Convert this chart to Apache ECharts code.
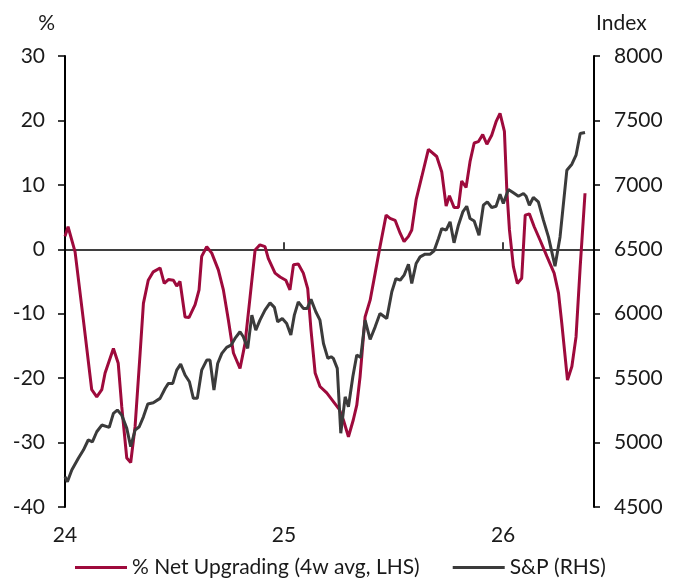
<!DOCTYPE html>
<html>
<head>
<meta charset="utf-8">
<script src="https://cdn.jsdelivr.net/npm/echarts@6/dist/echarts.min.js"></script>
<style>
html,body{margin:0;padding:0;background:#fff;}
#chart{width:679px;height:578px;}
</style>
</head>
<body>
<div id="chart"></div>
<script>
// Time positions in decimal years (2024.0 = start of 2024)
var redYears = [2024.000, 2024.014, 2024.046, 2024.084, 2024.122, 2024.145, 2024.168, 2024.183, 2024.221, 2024.243, 2024.259, 2024.282, 2024.300, 2024.320, 2024.343, 2024.358, 2024.380, 2024.403, 2024.434, 2024.453, 2024.472, 2024.495, 2024.510, 2024.525, 2024.548, 2024.566, 2024.594, 2024.612, 2024.624, 2024.647, 2024.670, 2024.700, 2024.723, 2024.746, 2024.769, 2024.799, 2024.822, 2024.845, 2024.868, 2024.890, 2024.913, 2024.928, 2024.959, 2024.982, 2025.008, 2025.027, 2025.043, 2025.065, 2025.088, 2025.108, 2025.123, 2025.142, 2025.164, 2025.195, 2025.233, 2025.253, 2025.271, 2025.294, 2025.316, 2025.332, 2025.347, 2025.370, 2025.393, 2025.416, 2025.438, 2025.466, 2025.484, 2025.507, 2025.530, 2025.548, 2025.568, 2025.583, 2025.603, 2025.629, 2025.659, 2025.697, 2025.720, 2025.740, 2025.755, 2025.776, 2025.796, 2025.811, 2025.831, 2025.849, 2025.868, 2025.887, 2025.907, 2025.926, 2025.948, 2025.968, 2025.986, 2026.006, 2026.017, 2026.029, 2026.047, 2026.065, 2026.085, 2026.101, 2026.120, 2026.142, 2026.169, 2026.200, 2026.233, 2026.253, 2026.268, 2026.294, 2026.314, 2026.333, 2026.352, 2026.374];
var netUpgrading = [2.0, 3.5, -0.4, -11.0, -21.8, -22.9, -21.8, -19.2, -15.4, -17.7, -24.4, -32.4, -33.1, -27.5, -16.1, -8.4, -4.8, -3.5, -2.9, -5.3, -4.7, -4.8, -5.7, -5.0, -10.5, -10.6, -8.6, -6.3, -1.1, 0.4, -0.6, -3.2, -6.3, -11.0, -16.1, -18.5, -14.6, -7.4, -0.1, 0.7, 0.4, -1.4, -3.7, -4.3, -4.8, -6.3, -2.4, -2.3, -3.7, -6.1, -12.5, -19.2, -21.3, -22.3, -24.0, -24.9, -26.5, -29.1, -26.5, -24.2, -19.8, -10.5, -7.9, -3.7, 0.4, 5.3, 4.8, 4.5, 2.5, 1.2, 2.0, 3.0, 7.7, 11.3, 15.5, 14.4, 12.0, 6.7, 8.3, 6.5, 6.5, 10.6, 9.6, 13.6, 16.5, 16.7, 17.8, 16.3, 17.7, 19.8, 21.1, 18.3, 9.2, 3.0, -2.7, -5.3, -4.5, 5.3, 5.5, 3.5, 1.4, -1.1, -3.7, -6.8, -11.5, -20.3, -18.2, -13.6, -2.7, 8.7];

var spxYears = [2024.000, 2024.011, 2024.031, 2024.061, 2024.084, 2024.106, 2024.125, 2024.145, 2024.168, 2024.202, 2024.221, 2024.239, 2024.259, 2024.282, 2024.300, 2024.320, 2024.339, 2024.358, 2024.378, 2024.403, 2024.434, 2024.457, 2024.472, 2024.492, 2024.510, 2024.528, 2024.548, 2024.568, 2024.586, 2024.604, 2024.624, 2024.647, 2024.662, 2024.680, 2024.697, 2024.716, 2024.738, 2024.758, 2024.776, 2024.799, 2024.814, 2024.834, 2024.853, 2024.871, 2024.890, 2024.913, 2024.936, 2024.956, 2024.971, 2024.992, 2025.012, 2025.031, 2025.047, 2025.065, 2025.088, 2025.106, 2025.123, 2025.145, 2025.164, 2025.180, 2025.200, 2025.215, 2025.225, 2025.243, 2025.259, 2025.279, 2025.294, 2025.314, 2025.332, 2025.350, 2025.370, 2025.393, 2025.416, 2025.438, 2025.469, 2025.492, 2025.511, 2025.530, 2025.548, 2025.568, 2025.583, 2025.603, 2025.621, 2025.644, 2025.667, 2025.685, 2025.705, 2025.720, 2025.740, 2025.758, 2025.776, 2025.796, 2025.816, 2025.834, 2025.849, 2025.868, 2025.890, 2025.910, 2025.928, 2025.948, 2025.968, 2025.986, 2026.001, 2026.024, 2026.047, 2026.070, 2026.093, 2026.105, 2026.120, 2026.138, 2026.161, 2026.184, 2026.207, 2026.237, 2026.260, 2026.291, 2026.314, 2026.333, 2026.352, 2026.374];
var spx = [4735, 4696, 4787, 4878, 4942, 5020, 5006, 5084, 5136, 5118, 5227, 5252, 5213, 5110, 4968, 5097, 5123, 5200, 5299, 5309, 5343, 5420, 5459, 5459, 5562, 5609, 5524, 5472, 5343, 5343, 5562, 5640, 5640, 5407, 5614, 5692, 5739, 5756, 5808, 5860, 5821, 5731, 5989, 5873, 5950, 6028, 6084, 6049, 5937, 5963, 5925, 5834, 5989, 6092, 6041, 6041, 6111, 6015, 5950, 5769, 5653, 5666, 5653, 5576, 5072, 5355, 5278, 5511, 5679, 5661, 5950, 5800, 5898, 6002, 5963, 6170, 6273, 6260, 6299, 6384, 6235, 6390, 6441, 6462, 6462, 6488, 6584, 6661, 6648, 6713, 6550, 6687, 6790, 6834, 6739, 6720, 6609, 6842, 6868, 6824, 6834, 6927, 6855, 6964, 6938, 6912, 6933, 6912, 6842, 6902, 6868, 6726, 6596, 6369, 6596, 7113, 7160, 7230, 7398, 7406];

var xYearTicks = [2024, 2025, 2026];
var seriesNames = ['% Net Upgrading (4w avg, LHS)', 'S&P (RHS)'];

var RED = '#9E0A3C';
var DARK = '#3B3B3B';
var TXT = '#1a1a1a';
var FONT = 'Lato';
var FS = 21;

function pair(xs, ys){ return xs.map(function(x,i){ return [x, ys[i]]; }); }

var xMin = 2024, xMax = 2026.415;

var chart = echarts.init(document.getElementById('chart'), null, {renderer:'canvas'});
chart.setOption({
  animation: false,
  backgroundColor: '#fff',
  textStyle: {fontFamily: FONT, color: TXT},
  grid: {left: 65, right: 85, top: 56, bottom: 71, containLabel: false},
  legend: {
    data: [{name: seriesNames[0], icon: 'rect'}, {name: seriesNames[1], icon: 'rect'}],
    left: 70, top: 552, padding: 5,
    itemWidth: 52, itemHeight: 3, itemGap: 33,
    textStyle: {fontFamily: FONT, fontSize: FS, color: TXT}
  },
  xAxis: [
    {
      type: 'value', min: xMin, max: xMax, interval: 1,
      position: 'bottom',
      axisLine: {show: false, onZero: false},
      axisTick: {show: false},
      splitLine: {show: false},
      axisLabel: {
        fontFamily: FONT, fontSize: FS, color: TXT, margin: 18,
        showMaxLabel: false,
        formatter: function(v){ return xYearTicks.indexOf(Math.round(v*1000)/1000) >= 0 ? String(v).slice(2) : ''; }
      }
    },
    {
      type: 'value', min: xMin, max: xMax, interval: 1,
      axisLine: {show: true, onZero: true, onZeroAxisIndex: 0, lineStyle: {color: '#000', width: 1.5}},
      axisTick: {show: true, length: 7, inside: false, lineStyle: {color: '#000', width: 1.5}},
      axisLabel: {show: false},
      splitLine: {show: false}
    }
  ],
  yAxis: [
    {
      type: 'value', min: -40, max: 30, interval: 10, position: 'left',
      name: '%', nameLocation: 'end', nameGap: 22,
      nameTextStyle: {fontFamily: FONT, fontSize: FS, color: TXT, align: 'right', padding: [0, 10, 0, 0]},
      axisLine: {show: true, lineStyle: {color: '#000', width: 2}},
      axisTick: {show: true, length: 7, lineStyle: {color: '#000', width: 1.5}},
      axisLabel: {fontFamily: FONT, fontSize: FS, color: TXT, margin: 20},
      splitLine: {show: false}
    },
    {
      type: 'value', min: 4500, max: 8000, interval: 500, position: 'right',
      name: 'Index', nameLocation: 'end', nameGap: 22,
      nameTextStyle: {fontFamily: FONT, fontSize: FS, color: TXT, align: 'left', padding: [0, 0, 0, 2]},
      axisLine: {show: true, lineStyle: {color: '#000', width: 2}},
      axisTick: {show: true, length: 6, lineStyle: {color: '#000', width: 1.5}},
      axisLabel: {fontFamily: FONT, fontSize: FS, color: TXT, margin: 20, formatter: function(v){ return String(v); }},
      splitLine: {show: false}
    }
  ],
  series: [
    {
      name: seriesNames[0], type: 'line', xAxisIndex: 0, yAxisIndex: 0,
      data: pair(redYears, netUpgrading),
      showSymbol: false, symbol: 'none', smooth: false,
      lineStyle: {color: RED, width: 3}, itemStyle: {color: RED}, z: 3
    },
    {
      name: seriesNames[1], type: 'line', xAxisIndex: 0, yAxisIndex: 1,
      data: pair(spxYears, spx),
      showSymbol: false, symbol: 'none', smooth: false,
      lineStyle: {color: DARK, width: 3}, itemStyle: {color: DARK}, z: 4
    }
  ]
});
</script>
</body>
</html>
